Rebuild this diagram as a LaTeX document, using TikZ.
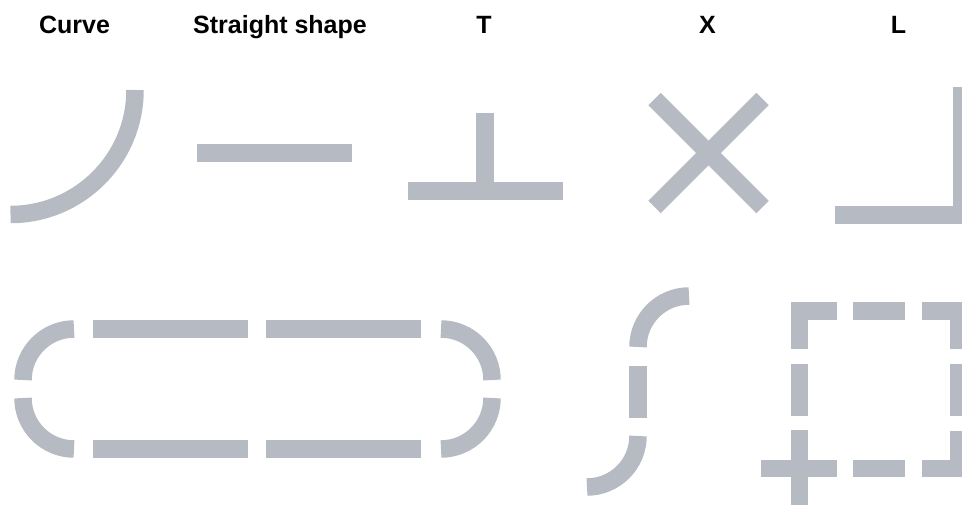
\documentclass[tikz,border=0pt]{standalone}
\usepackage{fontspec}
\setmainfont{Liberation Sans}
\usepackage{xcolor}
\usepackage{tikz}
\usetikzlibrary{positioning}
\definecolor{trackgray}{HTML}{B6BAC3}

\begin{document}
\begin{tikzpicture}[
  x=1pt, y=-1pt,
  piece/.style={draw=trackgray, line width=17.5pt, line cap=butt, line join=miter},
  caption/.style={font=\bfseries\fontsize{25}{30}\selectfont, anchor=base, inner sep=0pt},
]
\clip (0,0) rectangle (962,504);

% Titres
\node[caption] (lcurve) at (74.5,33) {Curve};
\node[caption] (lstraight) at (280,33) {Straight shape};
\node[caption] (lt) at (484,33) {T};
\node[caption] (lx) at (707.5,33) {X};
\node[caption] (ll) at (898.5,33) {L};

% Pieces simples
\draw[piece] (135,90) arc[start angle=0, end angle=90, radius=124.5];
\draw[piece] (197,153) -- (352,153);
\draw[piece] (408,191) -- (563,191);
\draw[piece] (485,113) -- (485,191);
\draw[piece] (654.5,99) -- (762.5,207);
\draw[piece] (654.5,207) -- (762.5,99);
\draw[piece] (835,215) -- (961.5,215) -- (961.5,87);

% Circuit ovale
\draw[piece] (74,329) arc[start angle=270, end angle=180, radius=51];
\draw[piece] (23,398) arc[start angle=180, end angle=90, radius=51];
\draw[piece] (441,329) arc[start angle=270, end angle=360, radius=51];
\draw[piece] (492,398) arc[start angle=0, end angle=90, radius=51];
\foreach \y in {329,449} {
  \draw[piece] (93,\y) -- (248,\y);
  \draw[piece] (266,\y) -- (421,\y);
}

% Courbe en S
\draw[piece] (689,296) arc[start angle=270, end angle=180, radius=51];
\draw[piece] (638,366) -- (638,418);
\draw[piece] (638,436) arc[start angle=0, end angle=90, radius=51];

% Carre
\draw[piece] (799.5,349) -- (799.5,311) -- (837,311);
\draw[piece] (921.5,311) -- (958.7,311) -- (958.7,349);
\draw[piece] (921.5,468.7) -- (958.7,468.7) -- (958.7,430.5);
\draw[piece] (761,468.7) -- (837,468.7);
\draw[piece] (799.5,430) -- (799.5,507);
\foreach \y in {311,468.7} {
  \draw[piece] (853,\y) -- (905,\y);
}
\foreach \x in {799.5,958.7} {
  \draw[piece] (\x,364) -- (\x,416);
}
\end{tikzpicture}
\end{document}
